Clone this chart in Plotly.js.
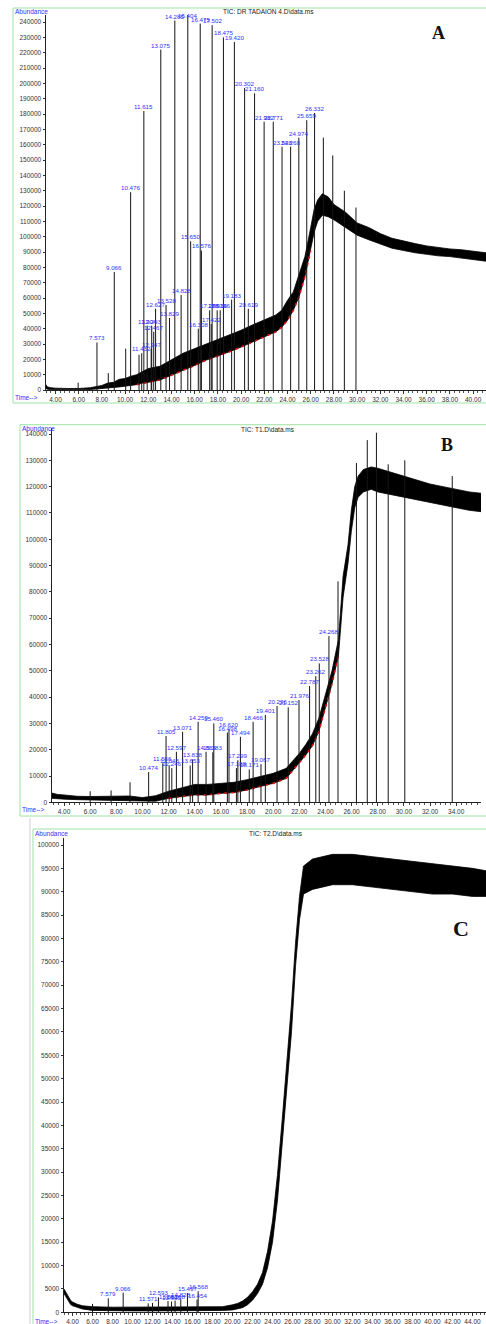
<!DOCTYPE html>
<html><head><meta charset="utf-8">
<script src="https://cdn.plot.ly/plotly-3.0.1.min.js"></script>
<style>html,body{margin:0;padding:0;background:#fff;}#chart{width:486px;height:1324px;}</style>
</head><body><div id="chart"></div>
<script>
// ---------- Panel A : TIC: DR TADAION 4.D\data.ms ----------
const timeA = [3.18, 3.3, 3.6, 4, 5, 6, 7, 8, 8.5, 9, 9.5, 10, 10.5, 11, 11.5, 12, 13, 14, 15, 16, 17, 18, 19, 20, 21, 22, 23, 23.5, 24, 24.5, 25, 25.5, 26, 26.3, 26.6, 27, 27.5, 28, 29, 30, 31, 32, 33, 34, 35, 36, 37, 38, 39, 40, 41.11];
const lowA  = [1000, 500, 300, 200, 100, 100, 300, 800, 1200, 1500, 2000, 2500, 3000, 3500, 4500, 5000, 6500, 9500, 12500, 16000, 19500, 22000, 25000, 28000, 31500, 35000, 38000, 41000, 45500, 52000, 61000, 74000, 91000, 103000, 110000, 114000, 113000, 111000, 106000, 101000, 98000, 95000, 92500, 91000, 89500, 88500, 87500, 87000, 86000, 85000, 84000];
const highA = [3500, 2000, 1500, 1200, 1000, 1000, 1500, 3000, 4500, 5000, 7000, 7500, 9000, 10000, 12000, 14000, 15500, 19500, 24000, 27000, 30000, 32500, 36000, 39000, 42500, 45500, 49000, 52000, 58500, 64000, 75000, 87000, 106000, 118000, 124000, 128000, 126000, 121000, 116000, 109000, 106000, 102000, 99000, 97000, 95500, 94000, 93000, 92000, 91500, 90500, 89500];
const peakTimeA   = [5.95, 7.573, 8.55, 9.066, 10.05, 10.476, 11.2, 11.432, 11.615, 11.904, 12.247, 12.293, 12.467, 12.627, 13.075, 13.528, 13.829, 14.285, 14.828, 15.404, 15.650, 16.308, 16.475, 16.576, 17.288, 17.422, 17.502, 17.936, 18.196, 18.475, 19.183, 19.420, 20.302, 20.619, 21.160, 21.982, 22.771, 23.528, 24.268, 24.974, 25.659, 26.332, 27.09, 27.9, 28.9, 29.9];
const peakHeightA = [4800, 31000, 11000, 77000, 27000, 129000, 23000, 24000, 182000, 42000, 27000, 42000, 38000, 53000, 222000, 55500, 47000, 241000, 62000, 246000, 97000, 40000, 239000, 91000, 52000, 43000, 238000, 52000, 52000, 230000, 59000, 227000, 197000, 53000, 193500, 175000, 175000, 158700, 158700, 164600, 176000, 180700, 164600, 153000, 130000, 119000];
const peakLabelA  = ['', '7.573', '', '9.066', '', '10.476', '', '11.432', '11.615', '11.904', '12.247', '12.293', '12.467', '12.627', '13.075', '13.528', '13.829', '14.285', '14.828', '15.404', '15.650', '16.308', '16.475', '16.576', '17.288', '17.422', '17.502', '17.936', '18.196', '18.475', '19.183', '19.420', '20.302', '20.619', '21.160', '21.982', '22.771', '23.528', '24.268', '24.974', '25.659', '26.332', '', '', '', ''];

// ---------- Panel B : TIC: T1.D\data.ms ----------
const timeB = [3.08, 3.5, 4, 5, 6, 7, 8, 9, 10, 11, 12, 13, 14, 15, 16, 17, 18, 19, 20, 21, 22, 22.5, 23, 23.5, 24, 24.5, 25, 25.35, 25.73, 25.98, 26.24, 26.5, 26.9, 27.5, 28, 29, 30, 31, 32, 33, 34, 35, 35.9];
const lowB  = [1500, 1300, 1200, 1000, 900, 800, 700, 500, 300, 400, 1500, 2200, 2800, 2800, 3400, 3700, 4700, 6000, 7200, 9100, 14800, 18000, 21500, 27000, 36000, 45000, 56000, 78000, 91000, 103000, 112000, 116000, 118000, 119000, 118000, 117000, 116000, 115000, 114000, 113000, 112000, 111000, 110500];
const highB = [3500, 3000, 2800, 2300, 2200, 2200, 2300, 2400, 1800, 2500, 4200, 5500, 6800, 6800, 7300, 7600, 8600, 9800, 11000, 12900, 18600, 22000, 26000, 32000, 41000, 50000, 62000, 86000, 98000, 111000, 120000, 124000, 126500, 127500, 127000, 125500, 124000, 122500, 121000, 120000, 119000, 118000, 117500];
const peakTimeB   = [6.0, 7.6, 9.05, 10.474, 11.556, 11.805, 12.043, 12.246, 12.597, 13.071, 13.653, 13.838, 14.259, 14.865, 15.383, 15.460, 16.498, 16.620, 17.188, 17.299, 17.494, 18.171, 18.466, 19.067, 19.401, 20.296, 21.152, 21.976, 22.787, 23.262, 23.528, 24.268, 24.96, 26.37, 27.2, 27.9, 28.8, 30.07, 33.7];
const peakHeightB = [4200, 4500, 7600, 11500, 14800, 25200, 14000, 13000, 19200, 26800, 14000, 16300, 30600, 19200, 19000, 30000, 26500, 27700, 13000, 16000, 24900, 12500, 30600, 14500, 33200, 36600, 36100, 38900, 44200, 48000, 52800, 63200, 84000, 129000, 137700, 140500, 128500, 130000, 124000];
const peakLabelB  = ['', '', '', '10.474', '11.556', '11.805', '12.043', '12.246', '12.597', '13.071', '13.653', '13.838', '14.259', '14.865', '15.383', '15.460', '16.498', '16.620', '17.188', '17.299', '17.494', '18.171', '18.466', '19.067', '19.401', '20.296', '21.152', '21.976', '22.787', '23.262', '23.528', '24.268', '', '', '', '', '', '', ''];

// ---------- Panel C : TIC: T2.D\data.ms ----------
const timeC = [3.15, 3.4, 3.6, 3.8, 4, 4.5, 5, 6, 8, 10, 12, 14, 16, 18, 19, 20, 20.5, 21, 21.5, 22, 22.5, 23, 23.5, 24, 24.5, 25, 25.5, 25.9, 26.3, 26.7, 27.1, 28, 30, 32, 34, 36, 38, 40, 42, 44, 45.35];
const lowC  = [4000, 3000, 2200, 1700, 1400, 1000, 700, 400, 300, 300, 300, 300, 300, 300, 400, 500, 700, 1000, 1600, 2600, 4000, 6000, 9500, 15000, 24000, 37000, 49000, 60000, 74000, 84000, 89500, 90500, 91500, 91500, 91000, 90500, 90000, 89500, 89500, 89000, 89000];
const highC = [5000, 4000, 3200, 2600, 2200, 1700, 1400, 1200, 1100, 1100, 1100, 1100, 1100, 1100, 1200, 1600, 1900, 2400, 3200, 4400, 6000, 8500, 13000, 19500, 29500, 42000, 55000, 66000, 79000, 89000, 95500, 97000, 98000, 98000, 97500, 97000, 96500, 96000, 95500, 95000, 94500];
const peakTimeC   = [6.0, 7.579, 9.066, 11.571, 12.0, 12.593, 13.551, 13.905, 14.258, 14.828, 15.497, 16.454, 16.568];
const peakHeightC = [1800, 3000, 4200, 1900, 2000, 3200, 2400, 2300, 2500, 2800, 4100, 2700, 4500];
const peakLabelC  = ['', '7.579', '9.066', '11.571', '', '12.593', '13.551', '13.905', '14.258', '14.828', '15.497', '16.454', '16.568'];

// ---------- helpers ----------
const W = 486, H = 1324;
const px = v => v / W, py = v => 1 - v / H;
const FONT = 'Liberation Sans, Arial, sans-serif';
const BLUE = '#2f2fff';

function band(t, lo, hi, xa, ya) {
  return [
    {x: t, y: lo, xaxis: xa, yaxis: ya, mode: 'lines', line: {color: '#000', width: 0.8}, hoverinfo: 'skip'},
    {x: t, y: hi, xaxis: xa, yaxis: ya, mode: 'lines', fill: 'tonexty', fillcolor: '#000', line: {color: '#000', width: 0.8}, hoverinfo: 'skip'}
  ];
}
function redEdge(t, lo, t0, t1, xa, ya) {
  const x = [], y = [];
  t.forEach((v, i) => { if (v >= t0 && v <= t1) { x.push(v); y.push(lo[i]); } });
  return {x, y, xaxis: xa, yaxis: ya, mode: 'lines', line: {color: '#e01010', width: 1.6, dash: '3px,4px'}, hoverinfo: 'skip'};
}
function sticks(t, h, xa, ya) {
  const x = [], y = [];
  t.forEach((v, i) => { x.push(v, v, null); y.push(0, h[i], null); });
  return {x, y, xaxis: xa, yaxis: ya, mode: 'lines', line: {color: '#151515', width: 1}, connectgaps: false, hoverinfo: 'skip'};
}
function labels(t, h, l, xr, yr, cap) {
  const out = [];
  t.forEach((v, i) => {
    if (!l[i]) return;
    out.push({x: v, y: Math.min(h[i], cap), xref: xr, yref: yr, text: l[i], showarrow: false,
      xanchor: 'center', yanchor: 'bottom', borderpad: 0, font: {family: FONT, size: 6.2, color: BLUE}});
  });
  return out;
}
function xAxis(dom, rng, anchor) {
  return {domain: dom, range: rng, anchor: anchor, tick0: 4, dtick: 2, tickformat: '.2f',
    ticks: 'outside', ticklen: 3, tickwidth: 1, tickcolor: '#333', showline: true, linecolor: '#222', linewidth: 1,
    showgrid: false, zeroline: false, tickfont: {family: FONT, size: 6.5, color: '#333'},
    minor: {tick0: 4, dtick: 0.4, ticks: 'outside', ticklen: 2, tickcolor: '#555', showgrid: false}, fixedrange: true};
}
function yAxis(dom, rng, dt, anchor) {
  return {domain: dom, range: rng, anchor: anchor, dtick: dt, tick0: 0, tickformat: 'd',
    ticks: 'outside', ticklen: 2, tickwidth: 1, tickcolor: '#333', showline: true, linecolor: '#222', linewidth: 1.5,
    showgrid: false, zeroline: false, tickfont: {family: FONT, size: 6.5, color: '#333'}, fixedrange: true};
}
function txt(x, y, s, opt) {
  return Object.assign({x: px(x), y: py(y), xref: 'paper', yref: 'paper', text: s, showarrow: false,
    xanchor: 'left', yanchor: 'middle', font: {family: FONT, size: 6.5, color: BLUE}}, opt || {});
}
function gline(x0, y0, x1, y1, c) {
  return {type: 'line', xref: 'paper', yref: 'paper', x0: px(x0), y0: py(y0), x1: px(x1), y1: py(y1),
    line: {color: c || '#9fe3a6', width: 1}};
}

const data = [].concat(
  band(timeA, lowA, highA, 'x', 'y'), [redEdge(timeA, lowA, 11, 26, 'x', 'y'), sticks(peakTimeA, peakHeightA, 'x', 'y')],
  band(timeB, lowB, highB, 'x2', 'y2'), [redEdge(timeB, lowB, 12, 25, 'x2', 'y2'), sticks(peakTimeB, peakHeightB, 'x2', 'y2')],
  band(timeC, lowC, highC, 'x3', 'y3'), [sticks(peakTimeC, peakHeightC, 'x3', 'y3')]
);

const SERIF = 'Liberation Serif, Times New Roman, serif';
const annotations = [].concat(
  labels(peakTimeA, peakHeightA, peakLabelA, 'x', 'y', 241500),
  labels(peakTimeB, peakHeightB, peakLabelB, 'x2', 'y2', 141000),
  labels(peakTimeC, peakHeightC, peakLabelC, 'x3', 'y3', 100000),
  [
    txt(13, 11.5, 'Abundance'),
    txt(268, 11.5, 'TIC: DR TADAION 4.D\\data.ms', {xanchor: 'center', font: {family: FONT, size: 6.5, color: '#222'}}),
    txt(438, 33, '<b>A</b>', {xanchor: 'center', font: {family: SERIF, size: 18, color: '#111'}}),
    txt(13, 397.5, 'Time-->'),
    txt(20, 428.5, 'Abundance'),
    txt(268, 429.5, 'TIC: T1.D\\data.ms', {xanchor: 'center', font: {family: FONT, size: 6.5, color: '#222'}}),
    txt(447, 445, '<b>B</b>', {xanchor: 'center', font: {family: SERIF, size: 18, color: '#111'}}),
    txt(20, 809.5, 'Time-->'),
    txt(33, 833, 'Abundance'),
    txt(276, 833.5, 'TIC: T2.D\\data.ms', {xanchor: 'center', font: {family: FONT, size: 6.5, color: '#222'}}),
    txt(461, 928, '<b>C</b>', {xanchor: 'center', font: {family: SERIF, size: 22, color: '#111'}}),
    txt(33, 1321.5, 'Time-->')
  ]
);

const layout = {
  width: W, height: H, margin: {l: 0, r: 0, t: 0, b: 0}, showlegend: false,
  paper_bgcolor: '#fff', plot_bgcolor: '#fff',
  xaxis:  xAxis([px(46), 1], [3.18, 41.11], 'y'),
  yaxis:  yAxis([py(390), py(15)], [0, 244600], 10000, 'x'),
  xaxis2: xAxis([px(52), px(481)], [3.08, 35.9], 'y2'),
  yaxis2: yAxis([py(802.3), py(428)], [0, 142300], 10000, 'x2'),
  xaxis3: xAxis([px(64), 1], [3.15, 45.35], 'y3'),
  yaxis3: yAxis([py(1312.3), py(838)], [0, 101500], 5000, 'x3'),
  annotations: annotations,
  shapes: [
    gline(13, 8, 486, 8), gline(13, 8, 13, 403), gline(13, 403, 486, 403),
    gline(20, 424.7, 486, 424.7), gline(20, 424.7, 20, 816), gline(20, 816, 486, 816),
    gline(33, 829, 486, 829), gline(33, 829, 33, 1324),
    gline(30, 818, 30, 1324, '#d0d0d0')
  ]
};

Plotly.newPlot('chart', data, layout, {staticPlot: true, displayModeBar: false});
</script>
</body></html>
